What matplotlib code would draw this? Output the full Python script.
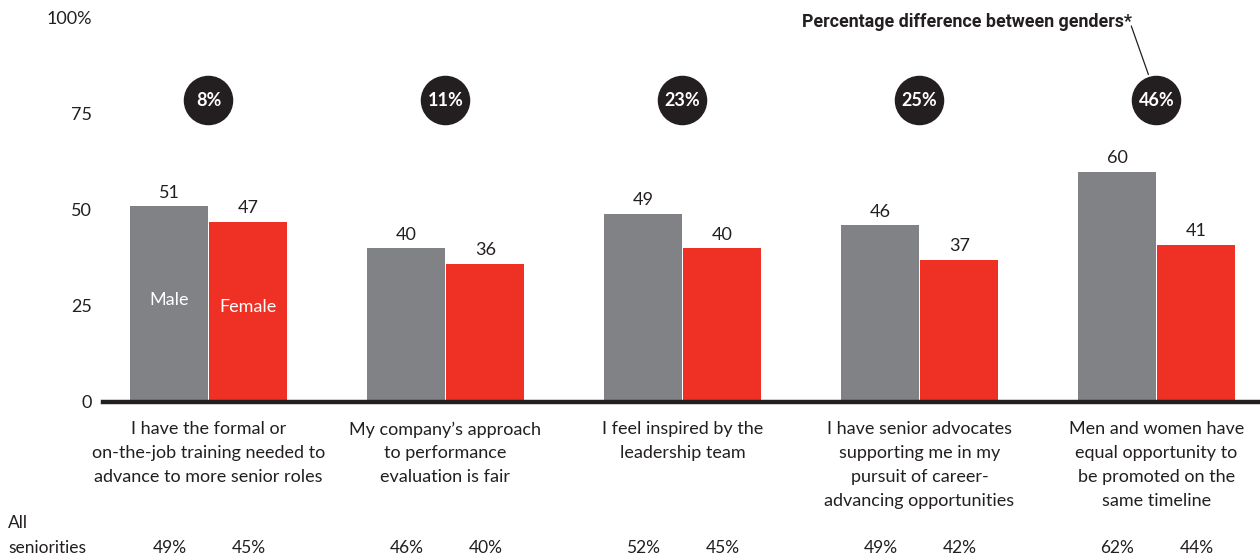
import matplotlib
matplotlib.use("Agg")
import matplotlib.pyplot as plt
import numpy as np

plt.rcParams['font.family'] = ['Lato', 'DejaVu Sans']

categories = [
    "I have the formal or\non-the-job training needed to\nadvance to more senior roles",
    "My company\u2019s approach\nto performance\nevaluation is fair",
    "I feel inspired by the\nleadership team",
    "I have senior advocates\nsupporting me in my\npursuit of career-\nadvancing opportunities",
    "Men and women have\nequal opportunity to\nbe promoted on the\nsame timeline",
]
male = [51, 40, 49, 46, 60]
female = [47, 36, 40, 37, 41]
gender_gap = ["8%", "11%", "23%", "25%", "46%"]
all_male = ["49%", "46%", "52%", "49%", "62%"]
all_female = ["45%", "40%", "45%", "42%", "44%"]
yticks = [0, 25, 50, 75, 100]
ytick_labels = ["0", "25", "50", "75", "100%"]

GREY = "#818285"
RED = "#ee3124"
DARK = "#231f20"
TEXT = "#231f20"

fig = plt.figure(figsize=(12.6, 5.6), dpi=100)
ax = fig.add_axes([103 / 1260, 1 - 402 / 560, 1 - 103 / 1260, 384 / 560])

x = np.arange(len(categories))
w = 0.329
ax.bar(x - w, male, width=w, align='edge', color=GREY, edgecolor='none', zorder=2)
ax.bar(x + 0.004, female, width=w, align='edge', color=RED, edgecolor='none', zorder=2)

ax.set_xlim(-0.445, 4.437)
ax.set_ylim(0, 100)
for s in ax.spines.values():
    s.set_visible(False)
ax.axhline(0, color=DARK, lw=3.2, zorder=3, clip_on=False)

ax.set_yticks(yticks)
ax.set_yticklabels(ytick_labels, fontsize=13, color=TEXT)
ax.tick_params(axis='y', length=0, pad=8)
ax.set_xticks([])

# value labels above bars
for i in range(len(categories)):
    ax.annotate(str(male[i]), (x[i] - w / 2, male[i]), xytext=(0, 4),
                textcoords='offset points', ha='center', va='bottom',
                fontsize=13, color=TEXT)
    ax.annotate(str(female[i]), (x[i] + 0.004 + w / 2, female[i]), xytext=(0, 4),
                textcoords='offset points', ha='center', va='bottom',
                fontsize=13, color=TEXT)

# series names inside the first pair of bars
ax.text(x[0] - w / 2, 26.5, "Male", ha='center', va='center', color='white', fontsize=13)
ax.text(x[0] + 0.004 + w / 2, 24.8, "Female", ha='center', va='center', color='white', fontsize=13)

# gender gap bubbles
ax.scatter(x, [78.6] * len(x), s=1200, color=DARK, zorder=4, clip_on=False)
for i, g in enumerate(gender_gap):
    ax.text(x[i], 78.6, g, ha='center', va='center', color='white',
            fontsize=13, fontweight='bold', zorder=5)

# callout
ax.text(4 - 0.105, 98.9, "Percentage difference between genders*", ha='right',
        va='center', fontsize=12.8, fontweight='bold', color=TEXT,
        family=['Roboto', 'DejaVu Sans'], clip_on=False)
ax.annotate("", xy=(4 - 0.03, 84.6), xytext=(4 - 0.11, 98.6),
            arrowprops=dict(arrowstyle='-', color=DARK, lw=0.9), annotation_clip=False)

# category labels
for i, c in enumerate(categories):
    ax.text(x[i], -5.0, c, ha='center', va='top', fontsize=13, color=TEXT,
            linespacing=1.6, clip_on=False)

# all seniorities row
fig.text(8 / 1260, 1 - 523 / 560, "All", ha='left', va='center', fontsize=12.5, color=TEXT)
fig.text(8 / 1260, 1 - 548 / 560, "seniorities", ha='left', va='center', fontsize=12.5, color=TEXT)
for i in range(len(categories)):
    ax.text(x[i] - w / 2, -38.0, all_male[i], ha='center', va='center', fontsize=12.5,
            color=TEXT, clip_on=False)
    ax.text(x[i] + 0.004 + w / 2, -38.0, all_female[i], ha='center', va='center', fontsize=12.5,
            color=TEXT, clip_on=False)

fig.savefig("out.png", dpi=100)
